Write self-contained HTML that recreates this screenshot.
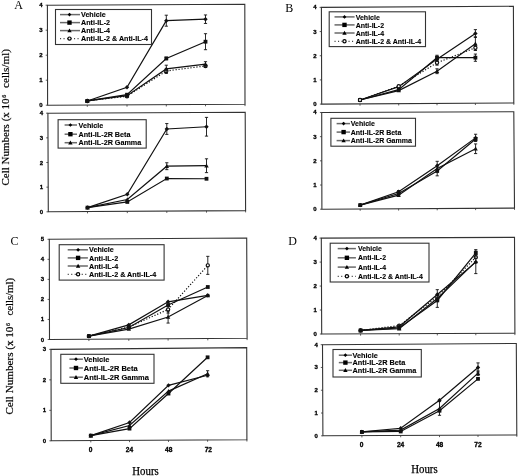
<!DOCTYPE html>
<html><head><meta charset="utf-8"><style>
html,body{margin:0;padding:0;background:#fff;}
svg{display:block;will-change:transform;filter:blur(0.3px);}
.tk{font-family:"Liberation Sans", sans-serif;font-weight:bold;font-size:6px;fill:#000;stroke:#000;stroke-width:0.3px;}
.tkx{font-family:"Liberation Sans", sans-serif;font-weight:bold;font-size:6.6px;fill:#000;stroke:#000;stroke-width:0.3px;}
.lg{font-family:"Liberation Sans", sans-serif;font-weight:bold;font-size:7.2px;fill:#000;stroke:#000;stroke-width:0.12px;}
.pl{font-family:"Liberation Serif", serif;font-size:12px;fill:#000;}
.yt{font-family:"Liberation Serif", serif;font-size:11px;fill:#000;stroke:#000;stroke-width:0.2px;}
.ys{font-family:"Liberation Serif", serif;font-size:6px;fill:#000;stroke:#000;stroke-width:0.2px;}
.ht{font-family:"Liberation Serif", serif;font-size:11.5px;fill:#000;stroke:#000;stroke-width:0.25px;}
</style></head><body>
<svg width="520" height="476" viewBox="0 0 520 476">
<rect width="520" height="476" fill="#fff"/>
<path d="M47.4 5.2L244.8 4.2L245 104.3L47.6 105.2Z" fill="none" stroke="#333" stroke-width="1.1" stroke-linejoin="miter"/>
<line x1="45.8" y1="105.2" x2="47.6" y2="105.2" stroke="#333" stroke-width="0.8"/>
<text x="41" y="107.2" text-anchor="middle" class="tk">0</text>
<line x1="45.75" y1="80.2" x2="47.55" y2="80.2" stroke="#333" stroke-width="0.8"/>
<text x="41" y="82.2" text-anchor="middle" class="tk">1</text>
<line x1="45.7" y1="55.2" x2="47.5" y2="55.2" stroke="#333" stroke-width="0.8"/>
<text x="41" y="57.2" text-anchor="middle" class="tk">2</text>
<line x1="45.65" y1="30.2" x2="47.45" y2="30.2" stroke="#333" stroke-width="0.8"/>
<text x="41" y="32.2" text-anchor="middle" class="tk">3</text>
<line x1="45.6" y1="5.2" x2="47.4" y2="5.2" stroke="#333" stroke-width="0.8"/>
<text x="41" y="7.2" text-anchor="middle" class="tk">4</text>
<line x1="87.3" y1="105.02" x2="87.3" y2="106.82" stroke="#333" stroke-width="0.8"/>
<line x1="127" y1="104.84" x2="127" y2="106.64" stroke="#333" stroke-width="0.8"/>
<line x1="166.3" y1="104.66" x2="166.3" y2="106.46" stroke="#333" stroke-width="0.8"/>
<line x1="205.5" y1="104.48" x2="205.5" y2="106.28" stroke="#333" stroke-width="0.8"/>
<line x1="245" y1="104.3" x2="245" y2="106.1" stroke="#333" stroke-width="0.8"/>
<path d="M87.3 100.95 L127 87.2 L166.3 20.7 L205.5 19.2" fill="none" stroke="#111" stroke-width="1.2"/>
<path d="M87.3 100.95 L127 94.7 L166.3 58.45 L205.5 41.7" fill="none" stroke="#111" stroke-width="1.2"/>
<path d="M87.3 100.95 L127 95.7 L166.3 68.95 L205.5 64.2" fill="none" stroke="#111" stroke-width="1.2"/>
<path d="M87.3 100.95 L127 96.2 L166.3 70.95 L205.5 65.95" fill="none" stroke="#111" stroke-width="1.2" stroke-dasharray="1.2 1.8"/>
<circle cx="87.3" cy="100.95" r="1.6" fill="#fff" stroke="#111" stroke-width="1.2"/>
<circle cx="127" cy="96.2" r="1.6" fill="#fff" stroke="#111" stroke-width="1.2"/>
<path d="M166.3 68.45V73.45M164.7 68.45H167.9M164.7 73.45H167.9" stroke="#111" stroke-width="0.9" fill="none"/>
<circle cx="166.3" cy="70.95" r="1.6" fill="#fff" stroke="#111" stroke-width="1.2"/>
<path d="M205.5 64.7V67.2M203.9 64.7H207.1M203.9 67.2H207.1" stroke="#111" stroke-width="0.9" fill="none"/>
<circle cx="205.5" cy="65.95" r="1.6" fill="#fff" stroke="#111" stroke-width="1.2"/>
<path d="M87.3 98.75L89.5 100.95L87.3 103.15L85.1 100.95Z" fill="#111"/>
<path d="M127 85L129.2 87.2L127 89.4L124.8 87.2Z" fill="#111"/>
<path d="M166.3 15.2V26.2M164.7 15.2H167.9M164.7 26.2H167.9" stroke="#111" stroke-width="0.9" fill="none"/>
<path d="M166.3 18.5L168.5 20.7L166.3 22.9L164.1 20.7Z" fill="#111"/>
<path d="M205.5 14.95V23.45M203.9 14.95H207.1M203.9 23.45H207.1" stroke="#111" stroke-width="0.9" fill="none"/>
<path d="M205.5 17L207.7 19.2L205.5 21.4L203.3 19.2Z" fill="#111"/>
<rect x="85.4" y="99.05" width="3.8" height="3.8" fill="#111"/>
<rect x="125.1" y="92.8" width="3.8" height="3.8" fill="#111"/>
<path d="M166.3 57.2V59.7M164.7 57.2H167.9M164.7 59.7H167.9" stroke="#111" stroke-width="0.9" fill="none"/>
<rect x="164.4" y="56.55" width="3.8" height="3.8" fill="#111"/>
<path d="M205.5 33.7V49.7M203.9 33.7H207.1M203.9 49.7H207.1" stroke="#111" stroke-width="0.9" fill="none"/>
<rect x="203.6" y="39.8" width="3.8" height="3.8" fill="#111"/>
<path d="M87.3 98.75L89.5 102.71L85.1 102.71Z" fill="#111"/>
<path d="M127 93.5L129.2 97.46L124.8 97.46Z" fill="#111"/>
<path d="M166.3 65.2V72.7M164.7 65.2H167.9M164.7 72.7H167.9" stroke="#111" stroke-width="0.9" fill="none"/>
<path d="M166.3 66.75L168.5 70.71L164.1 70.71Z" fill="#111"/>
<path d="M205.5 61.7V66.7M203.9 61.7H207.1M203.9 66.7H207.1" stroke="#111" stroke-width="0.9" fill="none"/>
<path d="M205.5 62L207.7 65.96L203.3 65.96Z" fill="#111"/>
<rect x="55.5" y="9.5" width="96" height="35" fill="#fff" stroke="#333" stroke-width="1.1"/>
<line x1="60" y1="14.6" x2="80" y2="14.6" stroke="#6a6a6a" stroke-width="1.5"/>
<path d="M69.5 12.73L71.37 14.6L69.5 16.47L67.63 14.6Z" fill="#000"/>
<text x="81" y="17.2" class="lg" textLength="24.69" lengthAdjust="spacingAndGlyphs">Vehicle</text>
<line x1="60" y1="22.6" x2="80" y2="22.6" stroke="#6a6a6a" stroke-width="1.5"/>
<rect x="67.31" y="20.42" width="4.37" height="4.37" fill="#000"/>
<text x="81" y="25.2" class="lg" textLength="29.05" lengthAdjust="spacingAndGlyphs">Anti-IL-2</text>
<line x1="60" y1="30.6" x2="80" y2="30.6" stroke="#6a6a6a" stroke-width="1.5"/>
<path d="M69.5 28.4L71.7 32.36L67.3 32.36Z" fill="#000"/>
<text x="81" y="33.2" class="lg" textLength="29.05" lengthAdjust="spacingAndGlyphs">Anti-IL-4</text>
<line x1="60" y1="38.6" x2="80" y2="38.6" stroke="#444" stroke-width="1.2" stroke-dasharray="1.1 2.4"/>
<circle cx="69.5" cy="38.6" r="1.6" fill="#fff" stroke="#000" stroke-width="1.2"/>
<text x="81" y="41.2" class="lg" textLength="66.98" lengthAdjust="spacingAndGlyphs">Anti-IL-2 &amp; Anti-IL-4</text>
<path d="M47.9 113.2L245.2 112.3L245.6 210.6L48.3 211.8Z" fill="none" stroke="#333" stroke-width="1.1" stroke-linejoin="miter"/>
<line x1="46.5" y1="211.8" x2="48.3" y2="211.8" stroke="#333" stroke-width="0.8"/>
<text x="41.5" y="213.8" text-anchor="middle" class="tk">0</text>
<line x1="46.4" y1="187.15" x2="48.2" y2="187.15" stroke="#333" stroke-width="0.8"/>
<text x="41.5" y="189.15" text-anchor="middle" class="tk">1</text>
<line x1="46.3" y1="162.5" x2="48.1" y2="162.5" stroke="#333" stroke-width="0.8"/>
<text x="41.5" y="164.5" text-anchor="middle" class="tk">2</text>
<line x1="46.2" y1="137.85" x2="48" y2="137.85" stroke="#333" stroke-width="0.8"/>
<text x="41.5" y="139.85" text-anchor="middle" class="tk">3</text>
<line x1="46.1" y1="113.2" x2="47.9" y2="113.2" stroke="#333" stroke-width="0.8"/>
<text x="41.5" y="115.2" text-anchor="middle" class="tk">4</text>
<line x1="87.5" y1="211.56" x2="87.5" y2="213.36" stroke="#333" stroke-width="0.8"/>
<line x1="127.3" y1="211.32" x2="127.3" y2="213.12" stroke="#333" stroke-width="0.8"/>
<line x1="166.8" y1="211.08" x2="166.8" y2="212.88" stroke="#333" stroke-width="0.8"/>
<line x1="206.5" y1="210.84" x2="206.5" y2="212.64" stroke="#333" stroke-width="0.8"/>
<line x1="245.6" y1="210.6" x2="245.6" y2="212.4" stroke="#333" stroke-width="0.8"/>
<path d="M87.5 207.61 L127.3 194.3 L166.8 128.98 L206.5 126.76" fill="none" stroke="#111" stroke-width="1.2"/>
<path d="M87.5 207.61 L127.3 201.94 L166.8 178.52 L206.5 178.77" fill="none" stroke="#111" stroke-width="1.2"/>
<path d="M87.5 207.61 L127.3 199.48 L166.8 166.2 L206.5 165.7" fill="none" stroke="#111" stroke-width="1.2"/>
<path d="M87.5 205.41L89.7 207.61L87.5 209.81L85.3 207.61Z" fill="#111"/>
<path d="M127.3 192.1L129.5 194.3L127.3 196.5L125.1 194.3Z" fill="#111"/>
<path d="M166.8 123.55V134.4M165.2 123.55H168.4M165.2 134.4H168.4" stroke="#111" stroke-width="0.9" fill="none"/>
<path d="M166.8 126.78L169 128.98L166.8 131.18L164.6 128.98Z" fill="#111"/>
<path d="M206.5 117.39V136.12M204.9 117.39H208.1M204.9 136.12H208.1" stroke="#111" stroke-width="0.9" fill="none"/>
<path d="M206.5 124.56L208.7 126.76L206.5 128.96L204.3 126.76Z" fill="#111"/>
<rect x="85.6" y="205.71" width="3.8" height="3.8" fill="#111"/>
<rect x="125.4" y="200.04" width="3.8" height="3.8" fill="#111"/>
<rect x="164.9" y="176.62" width="3.8" height="3.8" fill="#111"/>
<rect x="204.6" y="176.87" width="3.8" height="3.8" fill="#111"/>
<path d="M87.5 205.41L89.7 209.37L85.3 209.37Z" fill="#111"/>
<path d="M127.3 197.28L129.5 201.24L125.1 201.24Z" fill="#111"/>
<path d="M166.8 162.75V169.65M165.2 162.75H168.4M165.2 169.65H168.4" stroke="#111" stroke-width="0.9" fill="none"/>
<path d="M166.8 164L169 167.96L164.6 167.96Z" fill="#111"/>
<path d="M206.5 158.8V172.61M204.9 158.8H208.1M204.9 172.61H208.1" stroke="#111" stroke-width="0.9" fill="none"/>
<path d="M206.5 163.5L208.7 167.46L204.3 167.46Z" fill="#111"/>
<rect x="58.1" y="119.7" width="88.1" height="28.4" fill="#fff" stroke="#333" stroke-width="1.1"/>
<line x1="64.6" y1="125" x2="77" y2="125" stroke="#6a6a6a" stroke-width="1.5"/>
<path d="M70.4 123.13L72.27 125L70.4 126.87L68.53 125Z" fill="#000"/>
<text x="78.5" y="127.6" class="lg">Vehicle</text>
<line x1="64.6" y1="134.2" x2="77" y2="134.2" stroke="#6a6a6a" stroke-width="1.5"/>
<rect x="68.22" y="132.01" width="4.37" height="4.37" fill="#000"/>
<text x="78.5" y="136.8" class="lg">Anti-IL-2R Beta</text>
<line x1="64.6" y1="142.7" x2="77" y2="142.7" stroke="#6a6a6a" stroke-width="1.5"/>
<path d="M70.4 140.5L72.6 144.46L68.2 144.46Z" fill="#000"/>
<text x="78.5" y="145.3" class="lg">Anti-IL-2R Gamma</text>
<path d="M321.4 7.4L513.4 6.3L513.8 103L321.7 104.1Z" fill="none" stroke="#333" stroke-width="1.1" stroke-linejoin="miter"/>
<line x1="319.9" y1="104.1" x2="321.7" y2="104.1" stroke="#333" stroke-width="0.8"/>
<text x="315" y="106.1" text-anchor="middle" class="tk">0</text>
<line x1="319.82" y1="79.92" x2="321.62" y2="79.92" stroke="#333" stroke-width="0.8"/>
<text x="315" y="81.92" text-anchor="middle" class="tk">1</text>
<line x1="319.75" y1="55.74" x2="321.55" y2="55.74" stroke="#333" stroke-width="0.8"/>
<text x="315" y="57.74" text-anchor="middle" class="tk">2</text>
<line x1="319.67" y1="31.56" x2="321.47" y2="31.56" stroke="#333" stroke-width="0.8"/>
<text x="315" y="33.56" text-anchor="middle" class="tk">3</text>
<line x1="319.6" y1="7.38" x2="321.4" y2="7.38" stroke="#333" stroke-width="0.8"/>
<text x="315" y="9.38" text-anchor="middle" class="tk">4</text>
<line x1="360" y1="103.88" x2="360" y2="105.68" stroke="#333" stroke-width="0.8"/>
<line x1="398.7" y1="103.66" x2="398.7" y2="105.46" stroke="#333" stroke-width="0.8"/>
<line x1="437" y1="103.44" x2="437" y2="105.24" stroke="#333" stroke-width="0.8"/>
<line x1="475.4" y1="103.22" x2="475.4" y2="105.02" stroke="#333" stroke-width="0.8"/>
<line x1="513.8" y1="103" x2="513.8" y2="104.8" stroke="#333" stroke-width="0.8"/>
<path d="M360 99.99 L398.7 86.69 L437 59.13 L475.4 33.49" fill="none" stroke="#111" stroke-width="1.2"/>
<path d="M360 99.99 L398.7 89.59 L437 57.67 L475.4 57.67" fill="none" stroke="#111" stroke-width="1.2"/>
<path d="M360 99.99 L398.7 90.56 L437 71.22 L475.4 43.65" fill="none" stroke="#111" stroke-width="1.2"/>
<path d="M360 99.99 L398.7 86.21 L437 62.75 L475.4 47.76" fill="none" stroke="#111" stroke-width="1.2" stroke-dasharray="1.2 1.8"/>
<path d="M360 97.79L362.2 99.99L360 102.19L357.8 99.99Z" fill="#111"/>
<path d="M398.7 85.48V87.9M397.1 85.48H400.3M397.1 87.9H400.3" stroke="#111" stroke-width="0.9" fill="none"/>
<path d="M398.7 84.49L400.9 86.69L398.7 88.89L396.5 86.69Z" fill="#111"/>
<path d="M437 56.71V61.54M435.4 56.71H438.6M435.4 61.54H438.6" stroke="#111" stroke-width="0.9" fill="none"/>
<path d="M437 56.93L439.2 59.13L437 61.33L434.8 59.13Z" fill="#111"/>
<path d="M475.4 29.63V37.36M473.8 29.63H477M473.8 37.36H477" stroke="#111" stroke-width="0.9" fill="none"/>
<path d="M475.4 31.29L477.6 33.49L475.4 35.69L473.2 33.49Z" fill="#111"/>
<rect x="358.1" y="98.09" width="3.8" height="3.8" fill="#111"/>
<rect x="396.8" y="87.69" width="3.8" height="3.8" fill="#111"/>
<path d="M437 55.26V60.09M435.4 55.26H438.6M435.4 60.09H438.6" stroke="#111" stroke-width="0.9" fill="none"/>
<rect x="435.1" y="55.77" width="3.8" height="3.8" fill="#111"/>
<path d="M475.4 54.05V61.3M473.8 54.05H477M473.8 61.3H477" stroke="#111" stroke-width="0.9" fill="none"/>
<rect x="473.5" y="55.77" width="3.8" height="3.8" fill="#111"/>
<path d="M360 97.79L362.2 101.75L357.8 101.75Z" fill="#111"/>
<path d="M398.7 88.36L400.9 92.32L396.5 92.32Z" fill="#111"/>
<path d="M437 68.8V73.63M435.4 68.8H438.6M435.4 73.63H438.6" stroke="#111" stroke-width="0.9" fill="none"/>
<path d="M437 69.02L439.2 72.98L434.8 72.98Z" fill="#111"/>
<path d="M475.4 36.88V50.42M473.8 36.88H477M473.8 50.42H477" stroke="#111" stroke-width="0.9" fill="none"/>
<path d="M475.4 41.45L477.6 45.41L473.2 45.41Z" fill="#111"/>
<circle cx="360" cy="99.99" r="1.6" fill="#fff" stroke="#111" stroke-width="1.2"/>
<circle cx="398.7" cy="86.21" r="1.6" fill="#fff" stroke="#111" stroke-width="1.2"/>
<path d="M437 60.33V65.17M435.4 60.33H438.6M435.4 65.17H438.6" stroke="#111" stroke-width="0.9" fill="none"/>
<circle cx="437" cy="62.75" r="1.6" fill="#fff" stroke="#111" stroke-width="1.2"/>
<path d="M475.4 45.34V50.18M473.8 45.34H477M473.8 50.18H477" stroke="#111" stroke-width="0.9" fill="none"/>
<circle cx="475.4" cy="47.76" r="1.6" fill="#fff" stroke="#111" stroke-width="1.2"/>
<rect x="329.2" y="11.8" width="96.3" height="34.8" fill="#fff" stroke="#333" stroke-width="1.1"/>
<line x1="334.5" y1="16.9" x2="354.6" y2="16.9" stroke="#6a6a6a" stroke-width="1.5"/>
<path d="M344.5 15.03L346.37 16.9L344.5 18.77L342.63 16.9Z" fill="#000"/>
<text x="355.7" y="19.5" class="lg" textLength="24.15" lengthAdjust="spacingAndGlyphs">Vehicle</text>
<line x1="334.5" y1="24.9" x2="354.6" y2="24.9" stroke="#6a6a6a" stroke-width="1.5"/>
<rect x="342.31" y="22.71" width="4.37" height="4.37" fill="#000"/>
<text x="355.7" y="27.5" class="lg" textLength="28.4" lengthAdjust="spacingAndGlyphs">Anti-IL-2</text>
<line x1="334.5" y1="33" x2="354.6" y2="33" stroke="#6a6a6a" stroke-width="1.5"/>
<path d="M344.5 30.8L346.7 34.76L342.3 34.76Z" fill="#000"/>
<text x="355.7" y="35.6" class="lg" textLength="28.4" lengthAdjust="spacingAndGlyphs">Anti-IL-4</text>
<line x1="334.5" y1="41.3" x2="354.6" y2="41.3" stroke="#444" stroke-width="1.2" stroke-dasharray="1.1 2.4"/>
<circle cx="344.5" cy="41.3" r="1.6" fill="#fff" stroke="#000" stroke-width="1.2"/>
<text x="355.7" y="43.9" class="lg" textLength="65.5" lengthAdjust="spacingAndGlyphs">Anti-IL-2 &amp; Anti-IL-4</text>
<path d="M321.7 112.5L513.8 111.8L514.5 208.1L321.9 209.2Z" fill="none" stroke="#333" stroke-width="1.1" stroke-linejoin="miter"/>
<line x1="320.1" y1="209.2" x2="321.9" y2="209.2" stroke="#333" stroke-width="0.8"/>
<text x="315" y="211.2" text-anchor="middle" class="tk">0</text>
<line x1="320.05" y1="185.02" x2="321.85" y2="185.02" stroke="#333" stroke-width="0.8"/>
<text x="315" y="187.02" text-anchor="middle" class="tk">1</text>
<line x1="320" y1="160.84" x2="321.8" y2="160.84" stroke="#333" stroke-width="0.8"/>
<text x="315" y="162.84" text-anchor="middle" class="tk">2</text>
<line x1="319.95" y1="136.66" x2="321.75" y2="136.66" stroke="#333" stroke-width="0.8"/>
<text x="315" y="138.66" text-anchor="middle" class="tk">3</text>
<line x1="319.9" y1="112.48" x2="321.7" y2="112.48" stroke="#333" stroke-width="0.8"/>
<text x="315" y="114.48" text-anchor="middle" class="tk">4</text>
<line x1="360.2" y1="208.98" x2="360.2" y2="210.78" stroke="#333" stroke-width="0.8"/>
<line x1="398.6" y1="208.76" x2="398.6" y2="210.56" stroke="#333" stroke-width="0.8"/>
<line x1="437.2" y1="208.54" x2="437.2" y2="210.34" stroke="#333" stroke-width="0.8"/>
<line x1="475.6" y1="208.32" x2="475.6" y2="210.12" stroke="#333" stroke-width="0.8"/>
<line x1="514.5" y1="208.1" x2="514.5" y2="209.9" stroke="#333" stroke-width="0.8"/>
<path d="M360.2 205.09 L398.6 191.79 L437.2 165.68 L475.6 137.87" fill="none" stroke="#111" stroke-width="1.2"/>
<path d="M360.2 205.09 L398.6 193.48 L437.2 171 L475.6 139.08" fill="none" stroke="#111" stroke-width="1.2"/>
<path d="M360.2 205.09 L398.6 195.18 L437.2 168.58 L475.6 148.75" fill="none" stroke="#111" stroke-width="1.2"/>
<path d="M360.2 202.89L362.4 205.09L360.2 207.29L358 205.09Z" fill="#111"/>
<path d="M398.6 190.58V193M397 190.58H400.2M397 193H400.2" stroke="#111" stroke-width="0.9" fill="none"/>
<path d="M398.6 189.59L400.8 191.79L398.6 193.99L396.4 191.79Z" fill="#111"/>
<path d="M437.2 163.48L439.4 165.68L437.2 167.88L435 165.68Z" fill="#111"/>
<path d="M475.6 134.24V141.5M474 134.24H477.2M474 141.5H477.2" stroke="#111" stroke-width="0.9" fill="none"/>
<path d="M475.6 135.67L477.8 137.87L475.6 140.07L473.4 137.87Z" fill="#111"/>
<rect x="358.3" y="203.19" width="3.8" height="3.8" fill="#111"/>
<rect x="396.7" y="191.58" width="3.8" height="3.8" fill="#111"/>
<rect x="435.3" y="169.1" width="3.8" height="3.8" fill="#111"/>
<rect x="473.7" y="137.18" width="3.8" height="3.8" fill="#111"/>
<path d="M360.2 202.89L362.4 206.85L358 206.85Z" fill="#111"/>
<path d="M398.6 192.98L400.8 196.94L396.4 196.94Z" fill="#111"/>
<path d="M437.2 161.32V175.83M435.6 161.32H438.8M435.6 175.83H438.8" stroke="#111" stroke-width="0.9" fill="none"/>
<path d="M437.2 166.38L439.4 170.34L435 170.34Z" fill="#111"/>
<path d="M475.6 143.91V153.59M474 143.91H477.2M474 153.59H477.2" stroke="#111" stroke-width="0.9" fill="none"/>
<path d="M475.6 146.55L477.8 150.51L473.4 150.51Z" fill="#111"/>
<rect x="330.9" y="118.3" width="84.6" height="27.9" fill="#fff" stroke="#333" stroke-width="1.1"/>
<line x1="336.6" y1="123.6" x2="350" y2="123.6" stroke="#6a6a6a" stroke-width="1.5"/>
<path d="M343.6 121.73L345.47 123.6L343.6 125.47L341.73 123.6Z" fill="#000"/>
<text x="350.8" y="126.2" class="lg" textLength="24.1" lengthAdjust="spacingAndGlyphs">Vehicle</text>
<line x1="336.6" y1="132.1" x2="350" y2="132.1" stroke="#6a6a6a" stroke-width="1.5"/>
<rect x="341.42" y="129.91" width="4.37" height="4.37" fill="#000"/>
<text x="350.8" y="134.7" class="lg" textLength="50.49" lengthAdjust="spacingAndGlyphs">Anti-IL-2R Beta</text>
<line x1="336.6" y1="140.6" x2="350" y2="140.6" stroke="#6a6a6a" stroke-width="1.5"/>
<path d="M343.6 138.4L345.8 142.36L341.4 142.36Z" fill="#000"/>
<text x="350.8" y="143.2" class="lg" textLength="60.98" lengthAdjust="spacingAndGlyphs">Anti-IL-2R Gamma</text>
<path d="M49.3 239.3L246.7 238L247.1 338.3L49.5 339.5Z" fill="none" stroke="#333" stroke-width="1.1" stroke-linejoin="miter"/>
<line x1="47.7" y1="339.5" x2="49.5" y2="339.5" stroke="#333" stroke-width="0.8"/>
<text x="42.5" y="341.5" text-anchor="middle" class="tk">0</text>
<line x1="47.66" y1="319.46" x2="49.46" y2="319.46" stroke="#333" stroke-width="0.8"/>
<text x="42.5" y="321.46" text-anchor="middle" class="tk">1</text>
<line x1="47.62" y1="299.42" x2="49.42" y2="299.42" stroke="#333" stroke-width="0.8"/>
<text x="42.5" y="301.42" text-anchor="middle" class="tk">2</text>
<line x1="47.58" y1="279.38" x2="49.38" y2="279.38" stroke="#333" stroke-width="0.8"/>
<text x="42.5" y="281.38" text-anchor="middle" class="tk">3</text>
<line x1="47.54" y1="259.34" x2="49.34" y2="259.34" stroke="#333" stroke-width="0.8"/>
<text x="42.5" y="261.34" text-anchor="middle" class="tk">4</text>
<line x1="47.5" y1="239.3" x2="49.3" y2="239.3" stroke="#333" stroke-width="0.8"/>
<text x="42.5" y="241.3" text-anchor="middle" class="tk">5</text>
<line x1="88.9" y1="339.26" x2="88.9" y2="341.06" stroke="#333" stroke-width="0.8"/>
<line x1="128.8" y1="339.02" x2="128.8" y2="340.82" stroke="#333" stroke-width="0.8"/>
<line x1="168.1" y1="338.78" x2="168.1" y2="340.58" stroke="#333" stroke-width="0.8"/>
<line x1="207.8" y1="338.54" x2="207.8" y2="340.34" stroke="#333" stroke-width="0.8"/>
<line x1="247.1" y1="338.3" x2="247.1" y2="340.1" stroke="#333" stroke-width="0.8"/>
<path d="M88.9 336.09 L128.8 324.87 L168.1 301.82 L207.8 295.41" fill="none" stroke="#111" stroke-width="1.2"/>
<path d="M88.9 336.09 L128.8 327.48 L168.1 305.03 L207.8 287" fill="none" stroke="#111" stroke-width="1.2"/>
<path d="M88.9 336.09 L128.8 329.08 L168.1 317.06 L207.8 295.41" fill="none" stroke="#111" stroke-width="1.2"/>
<path d="M88.9 336.09 L128.8 327.08 L168.1 309.44 L207.8 265.35" fill="none" stroke="#111" stroke-width="1.2" stroke-dasharray="1.2 1.8"/>
<circle cx="88.9" cy="336.09" r="1.6" fill="#fff" stroke="#111" stroke-width="1.2"/>
<circle cx="128.8" cy="327.08" r="1.6" fill="#fff" stroke="#111" stroke-width="1.2"/>
<path d="M168.1 305.83V313.05M166.5 305.83H169.7M166.5 313.05H169.7" stroke="#111" stroke-width="0.9" fill="none"/>
<circle cx="168.1" cy="309.44" r="1.6" fill="#fff" stroke="#111" stroke-width="1.2"/>
<path d="M207.8 256.33V274.37M206.2 256.33H209.4M206.2 274.37H209.4" stroke="#111" stroke-width="0.9" fill="none"/>
<circle cx="207.8" cy="265.35" r="1.6" fill="#fff" stroke="#111" stroke-width="1.2"/>
<path d="M88.9 333.89L91.1 336.09L88.9 338.29L86.7 336.09Z" fill="#111"/>
<path d="M128.8 322.67L131 324.87L128.8 327.07L126.6 324.87Z" fill="#111"/>
<path d="M168.1 299.62L170.3 301.82L168.1 304.02L165.9 301.82Z" fill="#111"/>
<path d="M207.8 293.21L210 295.41L207.8 297.61L205.6 295.41Z" fill="#111"/>
<rect x="87" y="334.19" width="3.8" height="3.8" fill="#111"/>
<rect x="126.9" y="325.58" width="3.8" height="3.8" fill="#111"/>
<rect x="166.2" y="303.13" width="3.8" height="3.8" fill="#111"/>
<rect x="205.9" y="285.1" width="3.8" height="3.8" fill="#111"/>
<path d="M88.9 333.89L91.1 337.85L86.7 337.85Z" fill="#111"/>
<path d="M128.8 326.88L131 330.84L126.6 330.84Z" fill="#111"/>
<path d="M168.1 311.04V323.07M166.5 311.04H169.7M166.5 323.07H169.7" stroke="#111" stroke-width="0.9" fill="none"/>
<path d="M168.1 314.86L170.3 318.82L165.9 318.82Z" fill="#111"/>
<path d="M207.8 294.41V296.41M206.2 294.41H209.4M206.2 296.41H209.4" stroke="#111" stroke-width="0.9" fill="none"/>
<path d="M207.8 293.21L210 297.17L205.6 297.17Z" fill="#111"/>
<rect x="59.2" y="244.7" width="104.9" height="35.4" fill="#fff" stroke="#333" stroke-width="1.1"/>
<line x1="67.7" y1="249.8" x2="87.9" y2="249.8" stroke="#6a6a6a" stroke-width="1.5"/>
<path d="M78.1 247.93L79.97 249.8L78.1 251.67L76.23 249.8Z" fill="#000"/>
<text x="89" y="252.4" class="lg">Vehicle</text>
<line x1="67.7" y1="257.9" x2="87.9" y2="257.9" stroke="#6a6a6a" stroke-width="1.5"/>
<rect x="75.91" y="255.71" width="4.37" height="4.37" fill="#000"/>
<text x="89" y="260.5" class="lg">Anti-IL-2</text>
<line x1="67.7" y1="266" x2="87.9" y2="266" stroke="#6a6a6a" stroke-width="1.5"/>
<path d="M78.1 263.8L80.3 267.76L75.9 267.76Z" fill="#000"/>
<text x="89" y="268.6" class="lg">Anti-IL-4</text>
<line x1="67.7" y1="274.3" x2="87.9" y2="274.3" stroke="#444" stroke-width="1.2" stroke-dasharray="1.1 2.4"/>
<circle cx="78.1" cy="274.3" r="1.6" fill="#fff" stroke="#000" stroke-width="1.2"/>
<text x="89" y="276.9" class="lg">Anti-IL-2 &amp; Anti-IL-4</text>
<path d="M51 349.4L246.7 347.6L246.9 439.7L51.2 440.8Z" fill="none" stroke="#333" stroke-width="1.1" stroke-linejoin="miter"/>
<line x1="49.4" y1="440.8" x2="51.2" y2="440.8" stroke="#333" stroke-width="0.8"/>
<text x="44.4" y="442.8" text-anchor="middle" class="tk">0</text>
<line x1="49.33" y1="410.33" x2="51.13" y2="410.33" stroke="#333" stroke-width="0.8"/>
<text x="44.4" y="412.33" text-anchor="middle" class="tk">1</text>
<line x1="49.27" y1="379.86" x2="51.07" y2="379.86" stroke="#333" stroke-width="0.8"/>
<text x="44.4" y="381.86" text-anchor="middle" class="tk">2</text>
<line x1="49.2" y1="349.39" x2="51" y2="349.39" stroke="#333" stroke-width="0.8"/>
<text x="44.4" y="351.39" text-anchor="middle" class="tk">3</text>
<line x1="90.8" y1="440.58" x2="90.8" y2="442.38" stroke="#333" stroke-width="0.8"/>
<line x1="129.5" y1="440.36" x2="129.5" y2="442.16" stroke="#333" stroke-width="0.8"/>
<line x1="168.5" y1="440.14" x2="168.5" y2="441.94" stroke="#333" stroke-width="0.8"/>
<line x1="207.6" y1="439.92" x2="207.6" y2="441.72" stroke="#333" stroke-width="0.8"/>
<line x1="246.9" y1="439.7" x2="246.9" y2="441.5" stroke="#333" stroke-width="0.8"/>
<text x="90.6" y="452.2" text-anchor="middle" class="tkx">0</text>
<text x="129.4" y="452.2" text-anchor="middle" class="tkx">24</text>
<text x="168.7" y="452.2" text-anchor="middle" class="tkx">48</text>
<text x="208.3" y="452.2" text-anchor="middle" class="tkx">72</text>
<path d="M90.8 435.62 L129.5 422.52 L168.5 385.34 L207.6 375.29" fill="none" stroke="#111" stroke-width="1.2"/>
<path d="M90.8 435.62 L129.5 428.61 L168.5 393.57 L207.6 357.31" fill="none" stroke="#111" stroke-width="1.2"/>
<path d="M90.8 435.62 L129.5 425.56 L168.5 391.13 L207.6 373.77" fill="none" stroke="#111" stroke-width="1.2"/>
<path d="M90.8 433.42L93 435.62L90.8 437.82L88.6 435.62Z" fill="#111"/>
<path d="M129.5 420.32L131.7 422.52L129.5 424.72L127.3 422.52Z" fill="#111"/>
<path d="M168.5 383.14L170.7 385.34L168.5 387.54L166.3 385.34Z" fill="#111"/>
<path d="M207.6 373.09L209.8 375.29L207.6 377.49L205.4 375.29Z" fill="#111"/>
<rect x="88.9" y="433.72" width="3.8" height="3.8" fill="#111"/>
<rect x="127.6" y="426.71" width="3.8" height="3.8" fill="#111"/>
<rect x="166.6" y="391.67" width="3.8" height="3.8" fill="#111"/>
<rect x="205.7" y="355.41" width="3.8" height="3.8" fill="#111"/>
<path d="M90.8 433.42L93 437.38L88.6 437.38Z" fill="#111"/>
<path d="M129.5 423.37L131.7 427.32L127.3 427.32Z" fill="#111"/>
<path d="M168.5 388.93L170.7 392.89L166.3 392.89Z" fill="#111"/>
<path d="M207.6 370.72V376.81M206 370.72H209.2M206 376.81H209.2" stroke="#111" stroke-width="0.9" fill="none"/>
<path d="M207.6 371.57L209.8 375.53L205.4 375.53Z" fill="#111"/>
<rect x="60.8" y="354.3" width="93.2" height="29" fill="#fff" stroke="#333" stroke-width="1.1"/>
<line x1="69.4" y1="359.2" x2="82.9" y2="359.2" stroke="#6a6a6a" stroke-width="1.5"/>
<path d="M76 357.33L77.87 359.2L76 361.07L74.13 359.2Z" fill="#000"/>
<text x="83.8" y="361.8" class="lg" textLength="25.68" lengthAdjust="spacingAndGlyphs">Vehicle</text>
<line x1="69.4" y1="368" x2="82.9" y2="368" stroke="#6a6a6a" stroke-width="1.5"/>
<rect x="73.81" y="365.81" width="4.37" height="4.37" fill="#000"/>
<text x="83.8" y="370.6" class="lg" textLength="53.82" lengthAdjust="spacingAndGlyphs">Anti-IL-2R Beta</text>
<line x1="69.4" y1="377.2" x2="82.9" y2="377.2" stroke="#6a6a6a" stroke-width="1.5"/>
<path d="M76 375L78.2 378.96L73.8 378.96Z" fill="#000"/>
<text x="83.8" y="379.8" class="lg" textLength="65" lengthAdjust="spacingAndGlyphs">Anti-IL-2R Gamma</text>
<path d="M321.3 238.1L514.5 237.4L514.9 333.3L321.7 334Z" fill="none" stroke="#333" stroke-width="1.1" stroke-linejoin="miter"/>
<line x1="319.9" y1="334" x2="321.7" y2="334" stroke="#333" stroke-width="0.8"/>
<text x="315.1" y="336" text-anchor="middle" class="tk">0</text>
<line x1="319.8" y1="310.03" x2="321.6" y2="310.03" stroke="#333" stroke-width="0.8"/>
<text x="315.1" y="312.03" text-anchor="middle" class="tk">1</text>
<line x1="319.7" y1="286.06" x2="321.5" y2="286.06" stroke="#333" stroke-width="0.8"/>
<text x="315.1" y="288.06" text-anchor="middle" class="tk">2</text>
<line x1="319.6" y1="262.09" x2="321.4" y2="262.09" stroke="#333" stroke-width="0.8"/>
<text x="315.1" y="264.09" text-anchor="middle" class="tk">3</text>
<line x1="319.5" y1="238.12" x2="321.3" y2="238.12" stroke="#333" stroke-width="0.8"/>
<text x="315.1" y="240.12" text-anchor="middle" class="tk">4</text>
<line x1="360.6" y1="333.86" x2="360.6" y2="335.66" stroke="#333" stroke-width="0.8"/>
<line x1="399.2" y1="333.72" x2="399.2" y2="335.52" stroke="#333" stroke-width="0.8"/>
<line x1="437.3" y1="333.58" x2="437.3" y2="335.38" stroke="#333" stroke-width="0.8"/>
<line x1="475.8" y1="333.44" x2="475.8" y2="335.24" stroke="#333" stroke-width="0.8"/>
<line x1="514.9" y1="333.3" x2="514.9" y2="335.1" stroke="#333" stroke-width="0.8"/>
<path d="M360.6 330.4 L399.2 326.81 L437.3 294.45 L475.8 262.09" fill="none" stroke="#111" stroke-width="1.2"/>
<path d="M360.6 330.4 L399.2 328.01 L437.3 300.44 L475.8 252.98" fill="none" stroke="#111" stroke-width="1.2"/>
<path d="M360.6 330.4 L399.2 328.73 L437.3 298.52 L475.8 261.61" fill="none" stroke="#111" stroke-width="1.2"/>
<path d="M360.6 330.4 L399.2 325.61 L437.3 296.85 L475.8 257.3" fill="none" stroke="#111" stroke-width="1.2" stroke-dasharray="1.2 1.8"/>
<circle cx="360.6" cy="330.4" r="1.6" fill="#fff" stroke="#111" stroke-width="1.2"/>
<circle cx="399.2" cy="325.61" r="1.6" fill="#fff" stroke="#111" stroke-width="1.2"/>
<circle cx="437.3" cy="296.85" r="1.6" fill="#fff" stroke="#111" stroke-width="1.2"/>
<circle cx="475.8" cy="257.3" r="1.6" fill="#fff" stroke="#111" stroke-width="1.2"/>
<path d="M360.6 328.2L362.8 330.4L360.6 332.6L358.4 330.4Z" fill="#111"/>
<path d="M399.2 324.89V328.73M397.6 324.89H400.8M397.6 328.73H400.8" stroke="#111" stroke-width="0.9" fill="none"/>
<path d="M399.2 324.61L401.4 326.81L399.2 329.01L397 326.81Z" fill="#111"/>
<path d="M437.3 292.25L439.5 294.45L437.3 296.65L435.1 294.45Z" fill="#111"/>
<path d="M475.8 259.89L478 262.09L475.8 264.29L473.6 262.09Z" fill="#111"/>
<rect x="358.7" y="328.5" width="3.8" height="3.8" fill="#111"/>
<rect x="397.3" y="326.11" width="3.8" height="3.8" fill="#111"/>
<rect x="435.4" y="298.54" width="3.8" height="3.8" fill="#111"/>
<path d="M475.8 251.06V254.9M474.2 251.06H477.4M474.2 254.9H477.4" stroke="#111" stroke-width="0.9" fill="none"/>
<rect x="473.9" y="251.08" width="3.8" height="3.8" fill="#111"/>
<path d="M360.6 328.2L362.8 332.16L358.4 332.16Z" fill="#111"/>
<path d="M399.2 326.53L401.4 330.49L397 330.49Z" fill="#111"/>
<path d="M437.3 289.66V307.39M435.7 289.66H438.9M435.7 307.39H438.9" stroke="#111" stroke-width="0.9" fill="none"/>
<path d="M437.3 296.32L439.5 300.28L435.1 300.28Z" fill="#111"/>
<path d="M475.8 249.63V273.6M474.2 249.63H477.4M474.2 273.6H477.4" stroke="#111" stroke-width="0.9" fill="none"/>
<path d="M475.8 259.41L478 263.37L473.6 263.37Z" fill="#111"/>
<rect x="330.2" y="243.2" width="98.8" height="38.8" fill="#fff" stroke="#333" stroke-width="1.1"/>
<line x1="337.7" y1="248.6" x2="355.9" y2="248.6" stroke="#6a6a6a" stroke-width="1.5"/>
<path d="M346.9 246.73L348.77 248.6L346.9 250.47L345.03 248.6Z" fill="#000"/>
<text x="357.9" y="251.2" class="lg" textLength="23.92" lengthAdjust="spacingAndGlyphs">Vehicle</text>
<line x1="337.7" y1="257.8" x2="355.9" y2="257.8" stroke="#6a6a6a" stroke-width="1.5"/>
<rect x="344.71" y="255.62" width="4.37" height="4.37" fill="#000"/>
<text x="357.9" y="260.4" class="lg" textLength="28.14" lengthAdjust="spacingAndGlyphs">Anti-IL-2</text>
<line x1="337.7" y1="267.1" x2="355.9" y2="267.1" stroke="#6a6a6a" stroke-width="1.5"/>
<path d="M346.9 264.9L349.1 268.86L344.7 268.86Z" fill="#000"/>
<text x="357.9" y="269.7" class="lg" textLength="28.14" lengthAdjust="spacingAndGlyphs">Anti-IL-4</text>
<line x1="337.7" y1="276.3" x2="355.9" y2="276.3" stroke="#444" stroke-width="1.2" stroke-dasharray="1.1 2.4"/>
<circle cx="346.9" cy="276.3" r="1.6" fill="#fff" stroke="#000" stroke-width="1.2"/>
<text x="357.9" y="278.9" class="lg" textLength="64.89" lengthAdjust="spacingAndGlyphs">Anti-IL-2 &amp; Anti-IL-4</text>
<path d="M322.5 344.7L516.3 343.5L516.8 435L322.9 435.8Z" fill="none" stroke="#333" stroke-width="1.1" stroke-linejoin="miter"/>
<line x1="321.1" y1="435.8" x2="322.9" y2="435.8" stroke="#333" stroke-width="0.8"/>
<text x="316.2" y="437.8" text-anchor="middle" class="tk">0</text>
<line x1="321" y1="413.02" x2="322.8" y2="413.02" stroke="#333" stroke-width="0.8"/>
<text x="316.2" y="415.02" text-anchor="middle" class="tk">1</text>
<line x1="320.9" y1="390.24" x2="322.7" y2="390.24" stroke="#333" stroke-width="0.8"/>
<text x="316.2" y="392.24" text-anchor="middle" class="tk">2</text>
<line x1="320.8" y1="367.46" x2="322.6" y2="367.46" stroke="#333" stroke-width="0.8"/>
<text x="316.2" y="369.46" text-anchor="middle" class="tk">3</text>
<line x1="320.7" y1="344.68" x2="322.5" y2="344.68" stroke="#333" stroke-width="0.8"/>
<text x="316.2" y="346.68" text-anchor="middle" class="tk">4</text>
<line x1="361.9" y1="435.64" x2="361.9" y2="437.44" stroke="#333" stroke-width="0.8"/>
<line x1="400.7" y1="435.48" x2="400.7" y2="437.28" stroke="#333" stroke-width="0.8"/>
<line x1="439.5" y1="435.32" x2="439.5" y2="437.12" stroke="#333" stroke-width="0.8"/>
<line x1="478" y1="435.16" x2="478" y2="436.96" stroke="#333" stroke-width="0.8"/>
<line x1="516.8" y1="435" x2="516.8" y2="436.8" stroke="#333" stroke-width="0.8"/>
<text x="361.5" y="447" text-anchor="middle" class="tkx">0</text>
<text x="400.6" y="447" text-anchor="middle" class="tkx">24</text>
<text x="439.6" y="447" text-anchor="middle" class="tkx">48</text>
<text x="477.9" y="447" text-anchor="middle" class="tkx">72</text>
<path d="M361.9 431.93 L400.7 428.28 L439.5 400.26 L478 367.46" fill="none" stroke="#111" stroke-width="1.2"/>
<path d="M361.9 431.93 L400.7 431.47 L439.5 410.74 L478 378.85" fill="none" stroke="#111" stroke-width="1.2"/>
<path d="M361.9 431.93 L400.7 430.11 L439.5 408.46 L478 373.16" fill="none" stroke="#111" stroke-width="1.2"/>
<path d="M361.9 429.73L364.1 431.93L361.9 434.13L359.7 431.93Z" fill="#111"/>
<path d="M400.7 426.08L402.9 428.28L400.7 430.48L398.5 428.28Z" fill="#111"/>
<path d="M439.5 398.06L441.7 400.26L439.5 402.46L437.3 400.26Z" fill="#111"/>
<path d="M478 362.9V372.02M476.4 362.9H479.6M476.4 372.02H479.6" stroke="#111" stroke-width="0.9" fill="none"/>
<path d="M478 365.26L480.2 367.46L478 369.66L475.8 367.46Z" fill="#111"/>
<rect x="360" y="430.03" width="3.8" height="3.8" fill="#111"/>
<rect x="398.8" y="429.57" width="3.8" height="3.8" fill="#111"/>
<rect x="437.6" y="408.84" width="3.8" height="3.8" fill="#111"/>
<rect x="476.1" y="376.95" width="3.8" height="3.8" fill="#111"/>
<path d="M361.9 429.73L364.1 433.69L359.7 433.69Z" fill="#111"/>
<path d="M400.7 427.91L402.9 431.87L398.5 431.87Z" fill="#111"/>
<path d="M439.5 401.63V415.3M437.9 401.63H441.1M437.9 415.3H441.1" stroke="#111" stroke-width="0.9" fill="none"/>
<path d="M439.5 406.26L441.7 410.22L437.3 410.22Z" fill="#111"/>
<path d="M478 370.88V375.43M476.4 370.88H479.6M476.4 375.43H479.6" stroke="#111" stroke-width="0.9" fill="none"/>
<path d="M478 370.96L480.2 374.92L475.8 374.92Z" fill="#111"/>
<rect x="333" y="349.5" width="88.3" height="27.5" fill="#fff" stroke="#333" stroke-width="1.1"/>
<line x1="338.8" y1="355.2" x2="352" y2="355.2" stroke="#6a6a6a" stroke-width="1.5"/>
<path d="M345.4 353.33L347.27 355.2L345.4 357.07L343.53 355.2Z" fill="#000"/>
<text x="352.5" y="357.8" class="lg" textLength="25.24" lengthAdjust="spacingAndGlyphs">Vehicle</text>
<line x1="338.8" y1="362.6" x2="352" y2="362.6" stroke="#6a6a6a" stroke-width="1.5"/>
<rect x="343.21" y="360.42" width="4.37" height="4.37" fill="#000"/>
<text x="352.5" y="365.2" class="lg" textLength="52.88" lengthAdjust="spacingAndGlyphs">Anti-IL-2R Beta</text>
<line x1="338.8" y1="370.3" x2="352" y2="370.3" stroke="#6a6a6a" stroke-width="1.5"/>
<path d="M345.4 368.1L347.6 372.06L343.2 372.06Z" fill="#000"/>
<text x="352.5" y="372.9" class="lg" textLength="63.87" lengthAdjust="spacingAndGlyphs">Anti-IL-2R Gamma</text>
<text x="18.7" y="8.6" text-anchor="middle" class="pl">A</text>
<text x="289.3" y="12.1" text-anchor="middle" class="pl">B</text>
<text x="14.4" y="245.4" text-anchor="middle" class="pl">C</text>
<text x="292.6" y="244.8" text-anchor="middle" class="pl">D</text>
<text transform="translate(9.2,185.6) rotate(-90)" class="yt" textLength="87.2" lengthAdjust="spacingAndGlyphs">Cell Numbers (x 10</text>
<text transform="translate(5.7,97.8) rotate(-90)" class="ys">6</text>
<text transform="translate(9.2,88.0) rotate(-90)" class="yt" textLength="39.0" lengthAdjust="spacingAndGlyphs">cells/ml)</text>
<text transform="translate(13.0,414.6) rotate(-90)" class="yt" textLength="88.0" lengthAdjust="spacingAndGlyphs">Cell Numbers (x 10</text>
<text transform="translate(10.2,326.0) rotate(-90)" class="ys">6</text>
<text transform="translate(13.0,315.6) rotate(-90)" class="yt" textLength="37.6" lengthAdjust="spacingAndGlyphs">cells/ml)</text>
<text x="145.5" y="474.6" text-anchor="middle" class="ht" textLength="26.5" lengthAdjust="spacingAndGlyphs">Hours</text>
<text x="424.4" y="473.1" text-anchor="middle" class="ht" textLength="26.5" lengthAdjust="spacingAndGlyphs">Hours</text>
</svg>
</body></html>
